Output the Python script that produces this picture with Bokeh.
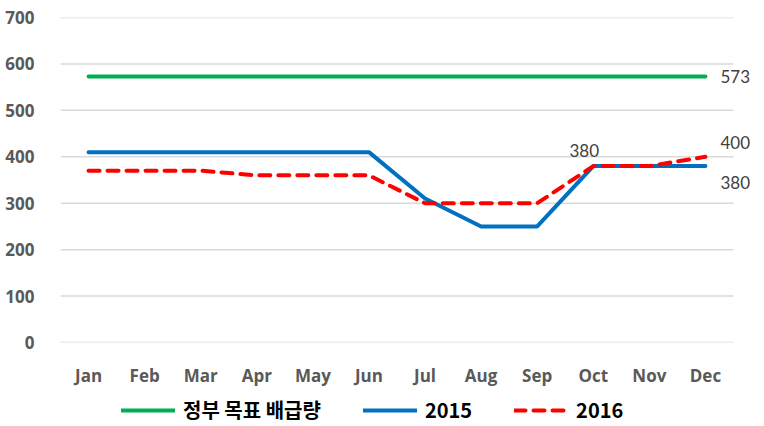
from bokeh.plotting import figure
from bokeh.models import Legend, LegendItem, Label, Range1d
from bokeh.layouts import column
from bokeh.embed import file_html
from bokeh.resources import INLINE

months = ["Jan", "Feb", "Mar", "Apr", "May", "Jun", "Jul", "Aug", "Sep", "Oct", "Nov", "Dec"]
target = [573] * 12
y2015 = [410, 410, 410, 410, 410, 410, 310, 250, 250, 380, 380, 380]
y2016 = [370, 370, 370, 360, 360, 360, 300, 300, 300, 380, 380, 400]
series_names = ["정부 목표 배급량", "2015", "2016"]
y_ticks = [0, 100, 200, 300, 400, 500, 600, 700]

idx = list(range(len(months)))
n = len(months)

p = figure(width=764, height=392, x_range=Range1d(-0.5, n - 0.5 + 0.553), y_range=Range1d(0, 700),
           output_backend="svg", toolbar_location=None,
           min_border_left=60, min_border_right=0, min_border_top=17, min_border_bottom=50)
p.outline_line_color = None
p.background_fill_color = "white"
p.border_fill_color = "white"
p.xgrid.grid_line_color = None
p.ygrid.grid_line_color = None

# horizontal gridlines spanning the category area only
p.segment(x0=[-0.5] * len(y_ticks), x1=[n - 0.5] * len(y_ticks), y0=y_ticks, y1=y_ticks,
          line_color="#D9D9D9", line_width=1.5)

r1 = p.line(idx, target, line_color="#00B050", line_width=4, line_cap="round")
r2 = p.line(idx, y2015, line_color="#0070C0", line_width=4, line_cap="round")
r3 = p.line(idx, y2016, line_color="#FF0000", line_width=4, line_dash="11 8", line_cap="round")

p.yaxis.ticker = y_ticks
p.xaxis.ticker = idx
p.xaxis.major_label_overrides = {i: m for i, m in zip(idx, months)}
for ax in (p.xaxis[0], p.yaxis[0]):
    ax.axis_line_color = None
    ax.major_tick_line_color = None
    ax.minor_tick_line_color = None
    ax.major_label_text_font = "Open Sans"
    ax.major_label_text_font_style = "bold"
    ax.major_label_text_font_size = "17px"
    ax.major_label_text_color = "#595959"
p.yaxis.major_label_standoff = 20
p.xaxis.major_label_standoff = 15

# data labels
labels = [
    (n - 1, target[-1], str(target[-1]), 15, 0, "left"),
    (n - 1, y2016[-1], str(y2016[-1]), 15, 14, "left"),
    (n - 1, y2015[-1], str(y2015[-1]), 15, -16, "left"),
    (9, y2015[9], str(y2015[9]), -9, 16, "center"),
]
for x, y, t, xo, yo, align in labels:
    p.add_layout(Label(x=x, y=y, text=t, x_offset=xo, y_offset=yo, text_align=align,
                       text_baseline="middle", text_font="Lato", text_font_size="17px",
                       text_color="#404040"))

# legend in a strip below the chart (series drawn off-range so only the legend shows)
lg = figure(width=764, height=34, output_backend="svg", toolbar_location=None,
            x_axis_type=None, y_axis_type=None, min_border=0,
            x_range=Range1d(0, 1), y_range=Range1d(0, 1))
lg.outline_line_color = None
lg.xgrid.grid_line_color = None
lg.ygrid.grid_line_color = None
l1 = lg.line(idx, target, line_color="#00B050", line_width=4, line_cap="round")
l2 = lg.line(idx, y2015, line_color="#0070C0", line_width=4, line_cap="round")
l3 = lg.line(idx, y2016, line_color="#FF0000", line_width=4, line_dash="11 8", line_cap="round")
legend = Legend(items=[LegendItem(label=series_names[0], renderers=[l1]),
                       LegendItem(label=series_names[1], renderers=[l2]),
                       LegendItem(label=series_names[2], renderers=[l3])],
                orientation="horizontal", location=(61, 2),
                label_text_font="Noto Sans CJK KR", label_text_font_style="bold",
                label_text_font_size="20px", label_text_color="#000000",
                glyph_width=54, glyph_height=20, spacing=42, label_standoff=8,
                border_line_color=None, background_fill_alpha=0, margin=0, padding=4)
lg.add_layout(legend, "center")

open("out.html", "w").write(file_html(column(p, lg), INLINE))
